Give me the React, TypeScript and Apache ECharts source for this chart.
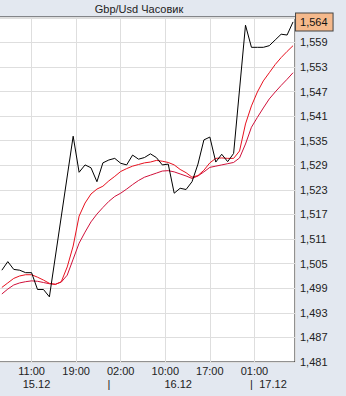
import React, { useEffect, useRef } from 'react';
import * as echarts from 'echarts';

const TITLE = 'Gbp/Usd Часовик';
// hour offset of the first bar, relative to 11:00 15.12
const FIRST_HOUR = -5;
const CLOSE: (number | null)[] = [
  1.5034, 1.5055, 1.5036, 1.5034, 1.5028, 1.5028, 1.4987, 1.4987, 1.4969, null,
  null, null, 1.5361, 1.5273, 1.5291, 1.5284, 1.5250, 1.5296, 1.5303, 1.5307,
  1.5295, 1.5291, 1.5315, 1.5305, 1.5309, 1.5318, 1.5309, 1.5291, 1.5293, 1.5222,
  1.5234, 1.5231, 1.5250, 1.5293, 1.5352, 1.5359, 1.5298, 1.5317, 1.5299, 1.5319,
  null, 1.5632, 1.5578, 1.5578, 1.5578, 1.5582, 1.5596, 1.5610, 1.5608, 1.5640,
];
const MA_FAST = [
  1.4992, 1.5003, 1.5014, 1.5020, 1.5023, 1.5023, 1.5017, 1.5010, 1.5002, 1.4999,
  1.5006, 1.5042, 1.5093, 1.5166, 1.5198, 1.5220, 1.5232, 1.5239, 1.5252, 1.5263,
  1.5275, 1.5282, 1.5288, 1.5292, 1.5296, 1.5298, 1.5302, 1.5300, 1.5297, 1.5291,
  1.5280, 1.5272, 1.5261, 1.5265, 1.5278, 1.5296, 1.5307, 1.5308, 1.5307, 1.5307,
  1.5325, 1.5391, 1.5435, 1.5469, 1.5496, 1.5516, 1.5536, 1.5553, 1.5568, 1.5582,
];
const MA_SLOW = [
  1.4976, 1.4988, 1.4998, 1.5003, 1.5006, 1.5008, 1.5007, 1.5004, 1.5001, 1.5000,
  1.5005, 1.5022, 1.5061, 1.5100, 1.5127, 1.5152, 1.5171, 1.5187, 1.5202, 1.5214,
  1.5222, 1.5232, 1.5243, 1.5253, 1.5261, 1.5266, 1.5271, 1.5276, 1.5277, 1.5274,
  1.5269, 1.5264, 1.5258, 1.5264, 1.5274, 1.5285, 1.5288, 1.5291, 1.5294, 1.5297,
  1.5308, 1.5342, 1.5383, 1.5407, 1.5430, 1.5452, 1.5469, 1.5485, 1.5500, 1.5516,
];
const TIME_LABELS = ['11:00', '19:00', '02:00', '10:00', '17:00', '01:00'];
const TIME_STEP = 7.5;
const DATE_LABELS = ['15.12', '|', '16.12', '|', '17.12'];
const DATE_POS = [0.83, 13, 24.67, 37, 40.63];
const X_MIN = -7.5;
const X_MAX = 44.33;
const Y_MIN = 1.481;
const Y_MAX = 1.5652;
const Y_STEP = 0.006;

// the chart is drawn in a box that starts SHIFT px left of the page,
// so the plot's left part (first grid column) is cut off as in the original
const SHIFT = 16;
const W = 346 + SHIFT;
const H = 396;

const FONT = '"Liberation Sans", Arial, sans-serif';
const fmt = (v: number) => v.toFixed(3).replace('.', ',');
const toPairs = (arr: (number | null)[]) => arr.map((v, i) => [FIRST_HOUR + i, v]);

export default function App() {
  const ref = useRef<HTMLDivElement>(null);
  useEffect(() => {
    if (!ref.current) return;
    const chart = echarts.init(ref.current, undefined, { renderer: 'svg' });
    chart.setOption({
      animation: false,
      backgroundColor: '#E3E8F0',
      textStyle: { fontFamily: FONT },
      graphic: [
        {
          type: 'text',
          x: 139 + SHIFT,
          y: 9,
          style: {
            text: TITLE,
            fill: '#222',
            fontSize: 11,
            fontFamily: FONT,
            align: 'center',
            verticalAlign: 'middle',
          },
        },
      ],
      grid: {
        show: true,
        left: 0,
        right: 51,
        top: 17,
        bottom: 34,
        backgroundColor: '#ffffff',
        borderColor: '#222',
        borderWidth: 1,
        containLabel: false,
      },
      xAxis: [
        {
          type: 'value',
          min: X_MIN,
          max: X_MAX,
          interval: TIME_STEP,
          position: 'bottom',
          axisLine: { show: false },
          axisTick: { show: false },
          splitLine: { show: true, lineStyle: { color: '#DEDEDE', width: 1 } },
          axisLabel: {
            margin: 3,
            fontSize: 11,
            color: '#222',
            fontFamily: FONT,
            formatter: (v: number) => {
              const k = Math.round(v / TIME_STEP);
              if (Math.abs(v - k * TIME_STEP) > 0.01) return '';
              return TIME_LABELS[k] ?? '';
            },
          },
        },
        {
          type: 'value',
          min: X_MIN,
          max: X_MAX,
          position: 'bottom',
          axisLine: { show: false },
          axisTick: { show: false },
          splitLine: { show: false },
          axisLabel: {
            customValues: DATE_POS,
            margin: 16,
            fontSize: 11,
            color: '#222',
            fontFamily: FONT,
            formatter: (v: number) => {
              let best = -1;
              let bd = 0.2;
              DATE_POS.forEach((p, i) => {
                if (Math.abs(p - v) < bd) {
                  bd = Math.abs(p - v);
                  best = i;
                }
              });
              return best >= 0 ? DATE_LABELS[best] : '';
            },
          },
        },
      ],
      yAxis: {
        type: 'value',
        position: 'right',
        min: Y_MIN,
        max: Y_MAX,
        interval: Y_STEP,
        axisLine: { show: false },
        axisTick: { show: false },
        splitLine: { show: true, lineStyle: { color: '#DEDEDE', width: 1 } },
        axisLabel: {
          margin: 5,
          fontSize: 11,
          color: '#222',
          fontFamily: FONT,
          formatter: (v: number) => (v > 1.562 ? '' : fmt(v)),
        },
      },
      series: [
        {
          type: 'line',
          xAxisIndex: 0,
          data: toPairs(MA_SLOW),
          showSymbol: false,
          lineStyle: { color: '#D0103A', width: 1 },
        },
        {
          type: 'line',
          xAxisIndex: 0,
          data: toPairs(MA_FAST),
          showSymbol: false,
          lineStyle: { color: '#E8101E', width: 1 },
        },
        {
          type: 'line',
          xAxisIndex: 0,
          data: toPairs(CLOSE),
          showSymbol: false,
          connectNulls: true,
          lineStyle: { color: '#000', width: 1 },
          endLabel: {
            show: true,
            distance: 3,
            formatter: (p: any) => fmt(p.value[1]),
            backgroundColor: '#F5B98C',
            borderColor: '#444',
            borderWidth: 1,
            padding: [3, 5, 3, 4],
            color: '#111',
            fontSize: 11,
            fontFamily: FONT,
          },
        },
      ],
    });
    return () => chart.dispose();
  }, []);
  return (
    <div style={{ position: 'fixed', left: 0, top: 0, width: 346, height: H, overflow: 'hidden' }}>
      <div
        ref={ref}
        style={{ position: 'absolute', left: -SHIFT, top: 0, width: W, height: H }}
      />
    </div>
  );
}
